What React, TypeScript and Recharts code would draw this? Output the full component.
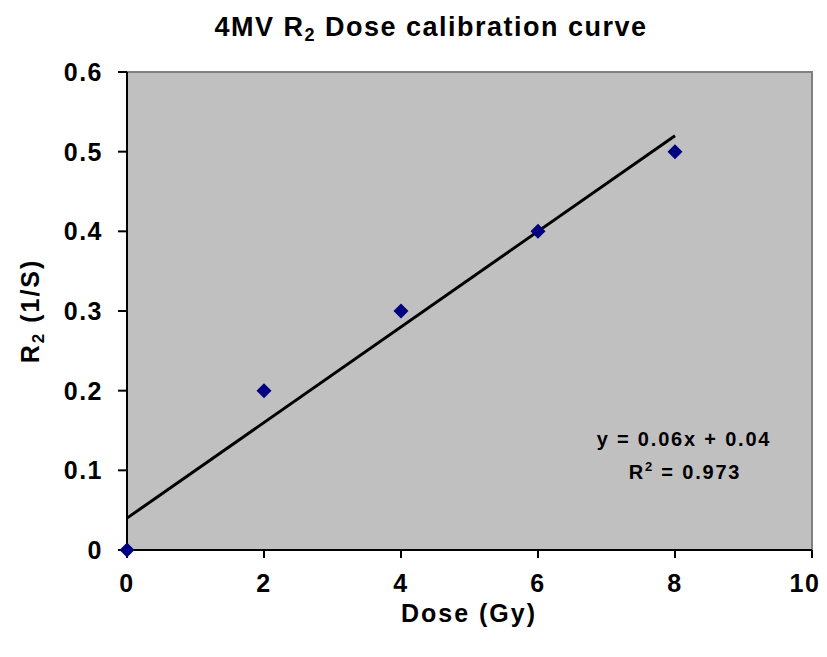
import {
  ComposedChart,
  Scatter,
  XAxis,
  YAxis,
  ReferenceArea,
  ReferenceLine,
  Customized,
} from 'recharts';

const doses = [0, 2, 4, 6, 8];
const r2Values = [0, 0.2, 0.3, 0.4, 0.5];
const xTicks = [0, 2, 4, 6, 8, 10];
const yTicks = [0, 0.1, 0.2, 0.3, 0.4, 0.5, 0.6];

// trendline from the Excel fit
const slope = 0.06;
const intercept = 0.04;
const rSquared = 0.973;
const fitStart = 0;
const fitEnd = 8;

const points = doses.map((d, i) => ({ dose: d, r2: r2Values[i] }));

const font = 'Arial, "Liberation Sans", sans-serif';

const Diamond = (props: any) => {
  const { cx, cy } = props;
  const h = 7.5;
  return (
    <path
      d={`M${cx},${cy - h}L${cx + h},${cy}L${cx},${cy + h}L${cx - h},${cy}Z`}
      fill="#000080"
    />
  );
};

// fit equation, drawn with the plot background so it sits above the grey fill
const Equation = () => (
  <g fontFamily={font} fontWeight="bold" fill="#000">
    <text x={676} y={438} fontSize={20} textAnchor="middle" letterSpacing={1.8}>
      y = {slope.toFixed(2)}x + {intercept.toFixed(2)}
    </text>
    <text x={677} y={471} fontSize={20} textAnchor="middle" letterSpacing={1.8}>
      R<tspan fontSize={13} dy={-8}>2</tspan>
      <tspan dy={8}> = {rSquared}</tspan>
    </text>
  </g>
);

const Texts = () => (
  <g fontFamily={font} fontWeight="bold" fill="#000">
    <text x={423} y={28} fontSize={27} textAnchor="middle" letterSpacing={1.5}>
      4MV R
      <tspan fontSize={18} dy={5}>2</tspan>
      <tspan dy={-5}> Dose calibration curve</tspan>
    </text>
    <text x={461} y={614} fontSize={25} textAnchor="middle" letterSpacing={2}>
      Dose (Gy)
    </text>
    <text
      x={0}
      y={0}
      fontSize={25}
      textAnchor="middle"
      letterSpacing={2}
      transform="translate(31,303) rotate(-90)"
    >
      R<tspan fontSize={17} dy={5}>2</tspan>
      <tspan dy={-5}> (1/S)</tspan>
    </text>
  </g>
);

const tickStyle = { fontSize: 25, fontWeight: 'bold', fill: '#000', fontFamily: font, letterSpacing: 1.5 };

export default function App() {
  return (
    <ComposedChart
      width={811}
      height={641}
      data={points}
      margin={{ top: 64, right: 7, left: 0, bottom: 0 }}
    >
      <XAxis
        type="number"
        dataKey="dose"
        domain={[0, 10]}
        ticks={xTicks}
        height={99}
        tick={tickStyle}
        tickSize={8}
        tickMargin={16}
        axisLine={{ stroke: '#000', strokeWidth: 2 }}
        tickLine={{ stroke: '#000', strokeWidth: 2 }}
      />
      <YAxis
        type="number"
        dataKey="r2"
        domain={[0, 0.6]}
        ticks={yTicks}
        width={119}
        tick={tickStyle}
        tickSize={9}
        tickMargin={15}
        axisLine={{ stroke: '#000', strokeWidth: 2 }}
        tickLine={{ stroke: '#000', strokeWidth: 2 }}
      />
      <ReferenceArea
        x1={0}
        x2={10}
        y1={0}
        y2={0.6}
        fill="#C0C0C0"
        fillOpacity={1}
        stroke="#808080"
        strokeWidth={2}
        label={{ content: () => <Equation /> }}
      />
      <ReferenceLine
        segment={[
          { x: fitStart, y: intercept + slope * fitStart },
          { x: fitEnd, y: intercept + slope * fitEnd },
        ]}
        stroke="#000"
        strokeWidth={3}
      />
      <Scatter dataKey="r2" shape={<Diamond />} isAnimationActive={false} />
      <Customized component={Texts} />
    </ComposedChart>
  );
}
